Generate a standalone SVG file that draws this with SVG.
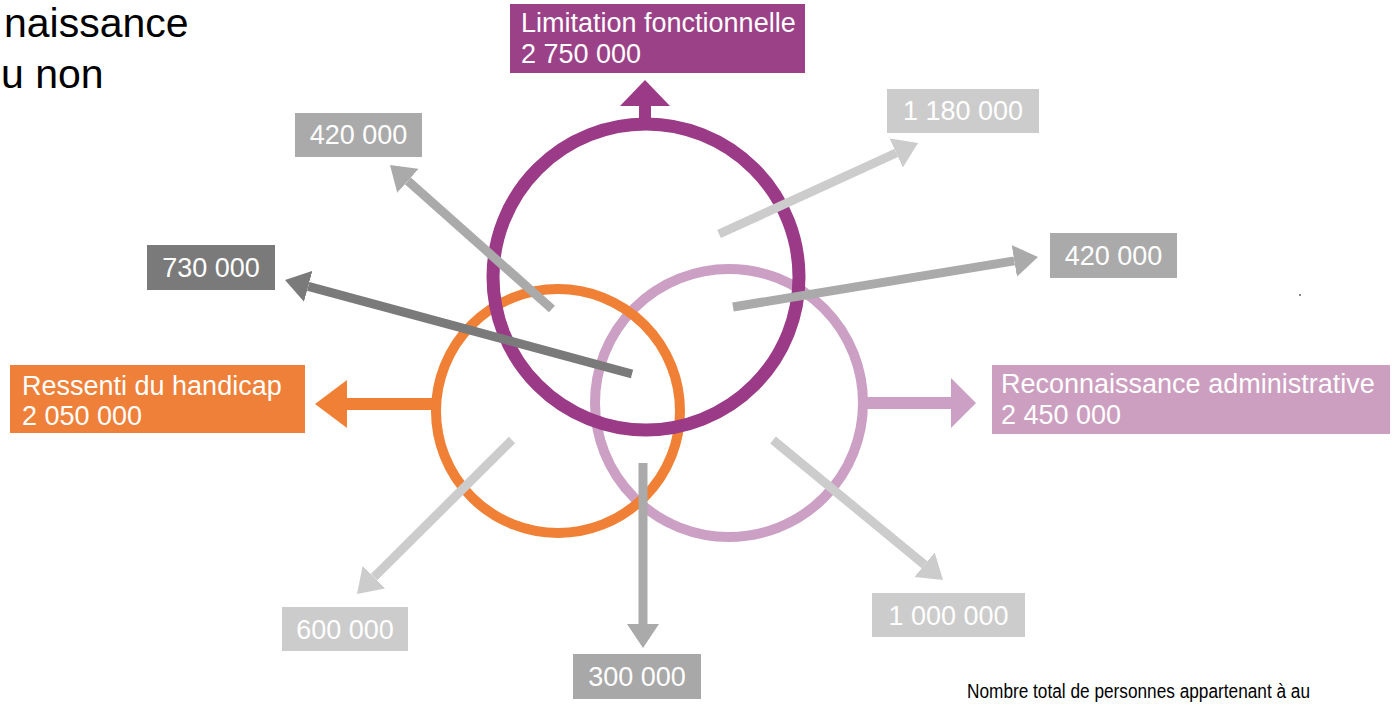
<svg xmlns="http://www.w3.org/2000/svg" width="1394" height="706" viewBox="0 0 1394 706">
<style>
.lbl{font-family:"Liberation Sans",Arial,sans-serif;font-size:27px;fill:#ffffff}
.num{font-family:"Liberation Sans",Arial,sans-serif;font-size:27px;fill:#ffffff;text-anchor:middle}
.big{font-family:"Liberation Sans",Arial,sans-serif;font-size:41px;fill:#000000}
.foot{font-family:"Liberation Sans",Arial,sans-serif;font-size:20px;fill:#000000}
.ring{fill:none}
.c1{stroke:#cccccc}.c2{stroke:#aaaaaa}.c3{stroke:#7a7a7a}
.arr{stroke-width:9;fill:none;stroke-linecap:butt}
</style>
<defs>
<marker id="h1" markerUnits="userSpaceOnUse" markerWidth="24" markerHeight="32" viewBox="0 0 24 32" refX="0" refY="16" orient="auto"><path d="M0,0 L24,16 L0,32 z" fill="#cccccc"/></marker>
<marker id="h2" markerUnits="userSpaceOnUse" markerWidth="24" markerHeight="32" viewBox="0 0 24 32" refX="0" refY="16" orient="auto"><path d="M0,0 L24,16 L0,32 z" fill="#aaaaaa"/></marker>
<marker id="h3" markerUnits="userSpaceOnUse" markerWidth="24" markerHeight="32" viewBox="0 0 24 32" refX="0" refY="16" orient="auto"><path d="M0,0 L24,16 L0,32 z" fill="#7a7a7a"/></marker>
</defs>
<rect width="1394" height="706" fill="#ffffff"/>

<g id="title-fragment">
<text class="big" x="4" y="37">naissance</text>
<text class="big" x="1" y="88">u non</text>
</g>

<g id="circle-admin">
<circle class="ring" cx="729" cy="403" r="134" stroke="#cca0c4" stroke-width="10"/>
<rect x="863" y="397" width="90" height="12" fill="#cca0c4"/>
<polygon points="951,378 976,403 951,428" fill="#cca0c4"/>
</g>
<g id="circle-ressenti">
<circle class="ring" cx="558" cy="411" r="122" stroke="#ef8036" stroke-width="10"/>
<rect x="343" y="398" width="94" height="12" fill="#ef8036"/>
<polygon points="347,380 315,404 347,428" fill="#ef8036"/>
</g>
<g id="circle-limitation">
<circle class="ring" cx="646" cy="277" r="153" stroke="#9b3a86" stroke-width="13"/>
<rect x="639" y="104" width="12" height="20" fill="#9b3a86"/>
<polygon points="620,106 645,80 670,106" fill="#9b3a86"/>
</g>

<g id="connectors">
<line class="arr c2" x1="552" y1="309" x2="407.9" y2="180.9" marker-end="url(#h2)"/>
<line class="arr c3" x1="632" y1="374" x2="308.2" y2="286.3" marker-end="url(#h3)"/>
<line class="arr c1" x1="719" y1="234" x2="896.2" y2="153" marker-end="url(#h1)"/>
<line class="arr c2" x1="733" y1="307" x2="1014.3" y2="260.9" marker-end="url(#h2)"/>
<line class="arr c1" x1="512" y1="440" x2="374" y2="577.1" marker-end="url(#h1)"/>
<line class="arr c2" x1="643" y1="463" x2="643" y2="624" marker-end="url(#h2)"/>
<line class="arr c1" x1="773" y1="440" x2="924.5" y2="564.7" marker-end="url(#h1)"/>
</g>

<g id="label-limitation">
<rect x="510" y="4" width="295" height="69" fill="#9b4187"/>
<text class="lbl" x="521" y="32">Limitation fonctionnelle</text>
<text class="lbl" x="521" y="63">2 750 000</text>
</g>
<g id="label-ressenti">
<rect x="10" y="365" width="295" height="68" fill="#ef8039"/>
<text class="lbl" x="22" y="395">Ressenti du handicap</text>
<text class="lbl" x="22" y="425">2 050 000</text>
</g>
<g id="label-admin">
<rect x="992" y="365" width="398" height="69" fill="#cc9ec0"/>
<text class="lbl" x="1001" y="393">Reconnaissance administrative</text>
<text class="lbl" x="1001" y="424">2 450 000</text>
</g>

<g id="n-420-tl"><rect x="295" y="113" width="127" height="44" fill="#aaaaaa"/><text class="num" x="358.5" y="144">420 000</text></g>
<g id="n-1180"><rect x="887" y="89" width="152" height="44" fill="#cccccc"/><text class="num" x="963" y="120">1 180 000</text></g>
<g id="n-730"><rect x="147" y="245" width="128" height="45" fill="#7a7a7a"/><text class="num" x="211" y="277">730 000</text></g>
<g id="n-420-r"><rect x="1050" y="233" width="127" height="45" fill="#aaaaaa"/><text class="num" x="1113.5" y="265">420 000</text></g>
<g id="n-600"><rect x="282" y="607" width="126" height="44" fill="#cccccc"/><text class="num" x="345" y="639">600 000</text></g>
<g id="n-300"><rect x="573" y="654" width="128" height="45" fill="#a8a8a8"/><text class="num" x="637" y="686">300 000</text></g>
<g id="n-1000"><rect x="872" y="593" width="153" height="44" fill="#cccccc"/><text class="num" x="948.5" y="625">1 000 000</text></g>

<g id="footer">
<text class="foot" x="967" y="698" textLength="343" lengthAdjust="spacingAndGlyphs">Nombre total de personnes appartenant à au</text>
<rect x="1299" y="294" width="2" height="2" fill="#888888"/>
</g>
</svg>
